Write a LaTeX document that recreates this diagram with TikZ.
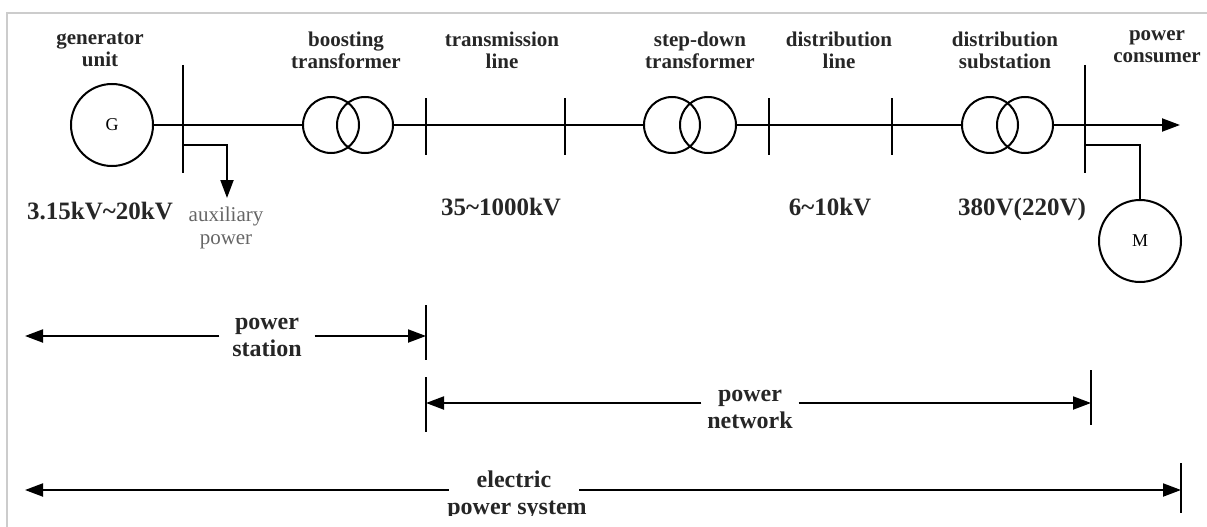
\documentclass[tikz,border=0pt]{standalone}
\usepackage{fontspec}
\setmainfont{Liberation Serif}
\usetikzlibrary{arrows.meta,positioning}

\begin{document}
\begin{tikzpicture}[x=1pt,y=-1pt,line width=2pt,>={Triangle[length=18pt,width=13pt]},
    machine/.style={circle,draw,minimum size=82pt,inner sep=0pt,font=\fontsize{18}{18}\selectfont},
    winding/.style={circle,draw,minimum size=56pt,inner sep=0pt},
    part/.style={align=center,font=\bfseries\fontsize{21}{22}\selectfont,text=black!85},
    volt/.style={anchor=base,font=\bfseries\fontsize{25}{27}\selectfont,text=black!85},
    span/.style={align=center,font=\bfseries\fontsize{24}{27}\selectfont,text=black!85}]

            \useasboundingbox (0,0) rectangle (1207,527);
            \draw[black!20,line width=2.5pt] (7,527) -- (7,13) -- (1207,13);

            % generator and boosting transformer
            \node[machine] (gen) at (112,125) {G};
            \coordinate (bus1) at (183,65);
            \draw (bus1) -- ++(0,108);
            \node[winding] (bt1) at (331,125) {};
            \node[winding] (bt2) [right=-24pt of bt1] {};
            \draw (gen) -- (bt1);
            \coordinate (auxtap) at (183,145);
            \coordinate (aux) at (227,198);
            \draw[->] (auxtap) -| (aux);

            % transmission line and step-down transformer
            \coordinate (tl1) at (426,125);
            \coordinate (tl2) at (565,125);
            \node[winding] (sd1) at (672,125) {};
            \node[winding] (sd2) [right=-22pt of sd1] {};
            \draw (bt2) -- (sd1);

            % distribution line and substation
            \coordinate (dl1) at (769,125);
            \coordinate (dl2) at (892,125);
            \node[winding] (ds1) at (990,125) {};
            \node[winding] (ds2) [right=-23pt of ds1] {};
            \draw (sd2) -- (ds1);
            \foreach \t in {tl1,tl2,dl1,dl2}
                \draw (\t) ++(0,-27) -- ++(0,57);

            % consumer side
            \coordinate (bus2) at (1085,65);
            \draw (bus2) -- ++(0,108);
            \coordinate (load) at (1180,125);
            \draw[->] (ds2) -- (load);
            \node[machine] (mot) at (1140,241) {M};
            \coordinate (mtap) at (1085,145);
            \draw (mtap) -| (mot);

            % names
            \node[part] (lgen) at (100,50) {generator\\unit};
            \node[part] (lbt) at (346,50) {boosting\\transformer};
            \node[part] (ltl) at (502,50) {transmission\\line};
            \node[part] (lsd) at (700,50) {step-down\\transformer};
            \node[part] (ldl) at (839,50) {distribution\\line};
            \node[part] (lds) at (1005,50) {distribution\\substation};
            \node[part] (lpc) at (1157,47) {power\\consumer};

            % voltages
            \node[volt] (vgen) at (100,219) {3.15kV\textasciitilde20kV};
            \node[align=center,font=\fontsize{21}{23}\selectfont,text=black!60] (laux) at (226,228) {auxiliary\\power};
            \node[volt] (vtl) at (501,215) {35\textasciitilde1000kV};
            \node[volt] (vdl) at (830,215) {6\textasciitilde10kV};
            \node[volt] (vds) at (1022,215) {380V(220V)};

            % power station
            \node[span,inner xsep=12pt] (ps) at (267,337) {power\\station};
            \coordinate (psL) at (25,336);
            \coordinate (psR) at (426,336);
            \draw[->] (ps.west |- psL) -- (psL);
            \draw[->] (ps.east |- psR) -- (psR);
            \draw (psR) ++(0,-31) -- ++(0,55);

            % power network
            \node[span,inner xsep=5pt] (pn) at (750,409) {power\\network};
            \coordinate (pnL) at (426,403);
            \coordinate (pnR) at (1091,403);
            \draw[->] (pn.west |- pnL) -- (pnL);
            \draw[->] (pn.east |- pnR) -- (pnR);
            \draw (pnL) ++(0,-26) -- ++(0,55);
            \draw (pnR) ++(0,-33) -- ++(0,55);

            % electric power system
            \begin{scope}
                \clip (0,0) rectangle (1207,515);
                \node[span,anchor=base,inner xsep=27pt] (eps) at (514,487) {electric};
                \node[span,anchor=base] (eps2) at (517,514) {power system};
            \end{scope}
            \coordinate (epsL) at (25,490);
            \coordinate (epsR) at (1181,490);
            \draw[->] (eps.west |- epsL) -- (epsL);
            \draw[->] (eps.east |- epsR) -- (epsR);
            \draw (epsR) ++(0,-27) -- ++(0,50);

        \end{tikzpicture}
\end{document}
